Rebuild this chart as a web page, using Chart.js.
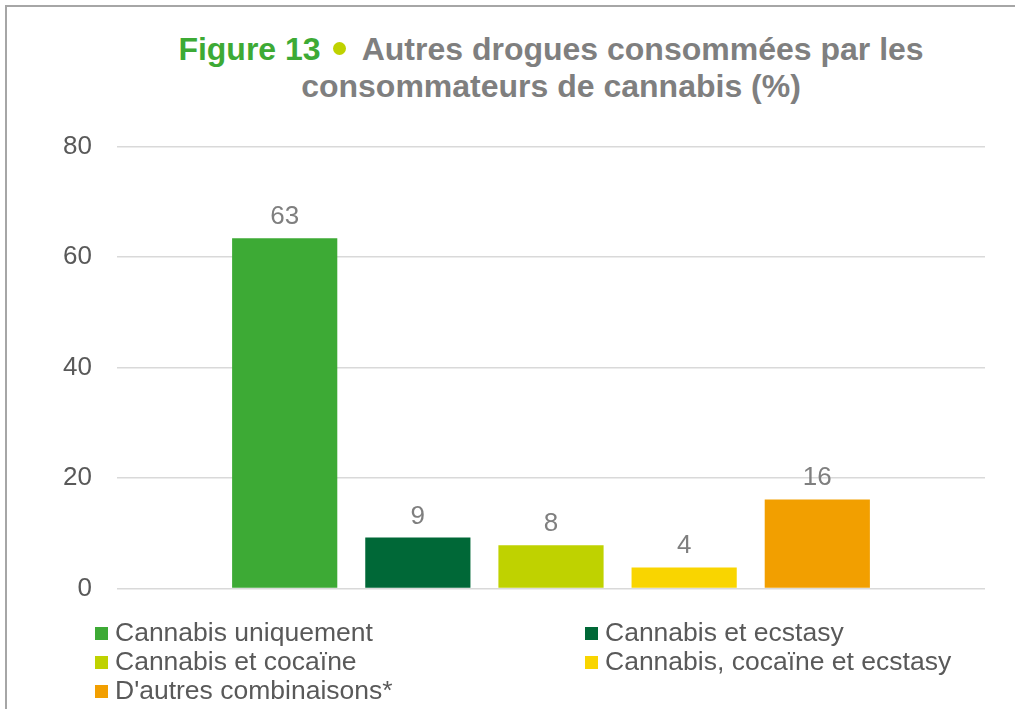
<!DOCTYPE html>
<html>
<head>
<meta charset="utf-8">
<script src="https://cdn.jsdelivr.net/npm/chart.js@4"></script>
<style>
    body { margin: 0; width: 1015px; height: 709px; overflow: hidden; background: #fff; font-family: "Liberation Sans", Arial, sans-serif; }
    #frame { position: absolute; left: 5px; top: 5px; width: 1020px; height: 720px; border-top: 2px solid #A6A6A6; border-left: 2px solid #A6A6A6; }
    #title { position: absolute; left: 117px; top: 31px; width: 868px; text-align: center; font-size: 32px; font-weight: bold; line-height: 37px; color: #7F7F7F; }
    #title .fig { color: #3DAA35; }
    #title .dot { display: inline-block; width: 13px; height: 13px; border-radius: 50%; background: #BFD200; margin: 0 16px 0 12px; vertical-align: 5px; }
    #wrap { position: absolute; left: 0; top: 106px; width: 1015px; height: 523px; }
    #legend { position: absolute; left: 0; top: 618px; width: 1015px; font-size: 26.5px; color: #595959; }
    .item { position: absolute; height: 29px; line-height: 29px; white-space: nowrap; }
    .item i { display: inline-block; width: 13px; height: 13px; margin-right: 7px; vertical-align: 1px; }
</style>
</head>
<body>
<div id="frame"></div>
<div id="title"><span class="fig">Figure 13</span><span class="dot"></span>Autres drogues consommées par les<br>consommateurs de cannabis (%)</div>
<div id="wrap"><canvas id="chart"></canvas></div>
<div id="legend"></div>
<script>
const seriesNames = ['Cannabis uniquement', 'Cannabis et ecstasy', 'Cannabis et cocaïne', 'Cannabis, cocaïne et ecstasy', "D'autres combinaisons*"];
const seriesValues = [63.4, 9.2, 7.8, 3.8, 16.1];
const seriesColors = ['#3DAA35', '#006837', '#BFD200', '#F9D500', '#F29F00'];
const yTicks = [0, 20, 40, 60, 80];

// value labels above bars
const valueLabels = {
    id: 'valueLabels',
    afterDatasetsDraw: (chart) => {
        const ctx = chart.ctx;
        ctx.save();
        ctx.font = '26px "Liberation Sans", Arial, sans-serif';
        ctx.fillStyle = '#7F7F7F';
        ctx.textAlign = 'center';
        ctx.textBaseline = 'alphabetic';
        chart.data.datasets.forEach((ds, i) => {
            const bar = chart.getDatasetMeta(i).data[0];
            ctx.fillText(Math.round(ds.data[0]), bar.x, bar.y - 14);
        });
        ctx.restore();
    }
};

const ctx = document.getElementById('chart').getContext('2d');
new Chart(ctx, {
    type: 'bar',
    data: {
        labels: [''],
        datasets: seriesNames.map((name, i) => ({
            label: name,
            data: [seriesValues[i]],
            backgroundColor: seriesColors[i],
            categoryPercentage: 0.767,
            barPercentage: 0.79
        }))
    },
    options: {
        responsive: true,
        maintainAspectRatio: false,
        animation: false,
        layout: { padding: { top: 30, bottom: 30, left: 0, right: 30 } },
        scales: {
            x: { display: false },
            y: {
                min: 0,
                max: 80,
                afterFit: (s) => { s.width = 117; },
                afterBuildTicks: (s) => { s.ticks = yTicks.map(v => ({ value: v })); },
                border: { display: false },
                grid: { color: '#D9D9D9', lineWidth: 1.5, drawTicks: false },
                ticks: {
                    padding: 25,
                    color: '#595959',
                    font: { family: '"Liberation Sans", Arial, sans-serif', size: 26 }
                }
            }
        },
        plugins: {
            legend: { display: false },
            tooltip: { enabled: false }
        }
    },
    plugins: [valueLabels]
});

// legend in two columns
const legend = document.getElementById('legend');
const colX = [95, 585];
seriesNames.forEach((name, i) => {
    const el = document.createElement('div');
    el.className = 'item';
    el.style.left = colX[i % 2] + 'px';
    el.style.top = (Math.floor(i / 2) * 29) + 'px';
    el.innerHTML = '<i style="background:' + seriesColors[i] + '"></i>' + name;
    legend.appendChild(el);
});
</script>
</body>
</html>
